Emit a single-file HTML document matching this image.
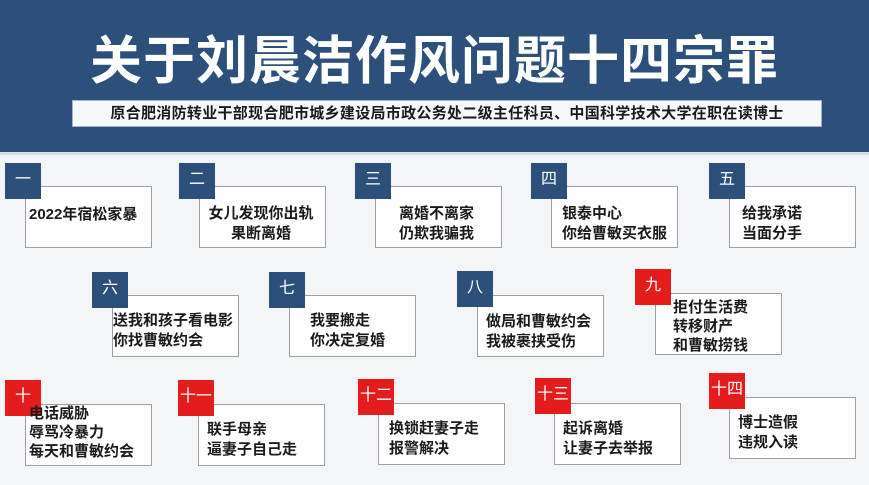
<!DOCTYPE html>
<html><head><meta charset="utf-8"><style>
*{margin:0;padding:0;box-sizing:border-box}
body{width:869px;height:485px;background:#f4f5f7;position:relative;overflow:hidden;font-family:"Liberation Sans","Noto Sans CJK SC",sans-serif}
#hdr{position:absolute;left:0;top:0;width:869px;height:155px;background:#2c5079;border-bottom:3px solid #d6dee8}
#title{position:absolute;left:0;width:869px;top:30px;text-align:center;color:#fff;font-size:52px;font-weight:bold;letter-spacing:1px;line-height:64px}
#sub{position:absolute;left:72px;top:100px;width:750px;height:27px;background:#f6f8fb;border:1px solid #9fb3cc;color:#1a1a1a;font-size:15px;font-weight:bold;text-align:center;line-height:25px;letter-spacing:0.3px}
.b{position:absolute;width:127px;height:62px;background:#fff;border:1.5px solid #9a9fa8;font-size:15px;font-weight:bold;color:#1b1b1b;line-height:20px}
.l{position:absolute;width:36px;height:36px;background:#2c5079;color:#fff;font-size:16px;font-weight:normal;text-align:center;line-height:34px}
.r{background:#e51c1c}
.t{position:absolute;z-index:5}
</style></head><body>
<div id="hdr"><div id="title">关于刘晨洁作风问题十四宗罪</div>
<div id="sub">原合肥消防转业干部现合肥市城乡建设局市政公务处二级主任科员、中国科学技术大学在职在读博士</div></div>

<div class="b" style="left:25px;top:186px"><div class="t" style="left:3px;top:18px">2022年宿松家暴</div></div>
<div class="l" style="left:5px;top:163px">一</div>
<div class="b" style="left:199px;top:186px"><div class="t" style="left:6px;top:17px;text-align:center;width:110px">女儿发现你出轨<br>果断离婚</div></div>
<div class="l" style="left:179px;top:163px">二</div>
<div class="b" style="left:375px;top:186px"><div class="t" style="left:23px;top:17px">离婚不离家<br>仍欺我骗我</div></div>
<div class="l" style="left:355px;top:163px">三</div>
<div class="b" style="left:551px;top:186px"><div class="t" style="left:10px;top:17px">银泰中心<br>你给曹敏买衣服</div></div>
<div class="l" style="left:531px;top:163px">四</div>
<div class="b" style="left:729px;top:186px"><div class="t" style="left:12px;top:17px">给我承诺<br>当面分手</div></div>
<div class="l" style="left:709px;top:163px">五</div>

<div class="b" style="left:112px;top:295px"><div class="t" style="left:0px;top:15px">送我和孩子看电影<br>你找曹敏约会</div></div>
<div class="l" style="left:92px;top:272px">六</div>
<div class="b" style="left:289px;top:295px"><div class="t" style="left:20px;top:15px">我要搬走<br>你决定复婚</div></div>
<div class="l" style="left:269px;top:272px">七</div>
<div class="b" style="left:477px;top:295px"><div class="t" style="left:8px;top:16px">做局和曹敏约会<br>我被裹挟受伤</div></div>
<div class="l" style="left:457px;top:271px">八</div>
<div class="b" style="left:655px;top:293px"><div class="l r" style="left:-21px;top:-25px">九</div><div class="t" style="left:17px;top:4px;line-height:19px">拒付生活费<br>转移财产<br>和曹敏捞钱</div></div>

<div class="b" style="left:25px;top:404px"><div class="l r" style="left:-21px;top:-25px">十</div><div class="t" style="left:3px;top:-1px;line-height:19px">电话威胁<br>辱骂冷暴力<br>每天和曹敏约会</div></div>
<div class="b" style="left:198px;top:404px"><div class="t" style="left:8px;top:15px">联手母亲<br>逼妻子自己走</div></div>
<div class="l r" style="left:178px;top:380px">十一</div>
<div class="b" style="left:378px;top:403px"><div class="t" style="left:10px;top:15px">换锁赶妻子走<br>报警解决</div></div>
<div class="l r" style="left:358px;top:379px">十二</div>
<div class="b" style="left:554px;top:403px"><div class="t" style="left:8px;top:15px">起诉离婚<br>让妻子去举报</div></div>
<div class="l r" style="left:535px;top:378px">十三</div>
<div class="b" style="left:729px;top:397px"><div class="t" style="left:8px;top:15px">博士造假<br>违规入读</div></div>
<div class="l r" style="left:709px;top:373px">十四</div>
</body></html>
